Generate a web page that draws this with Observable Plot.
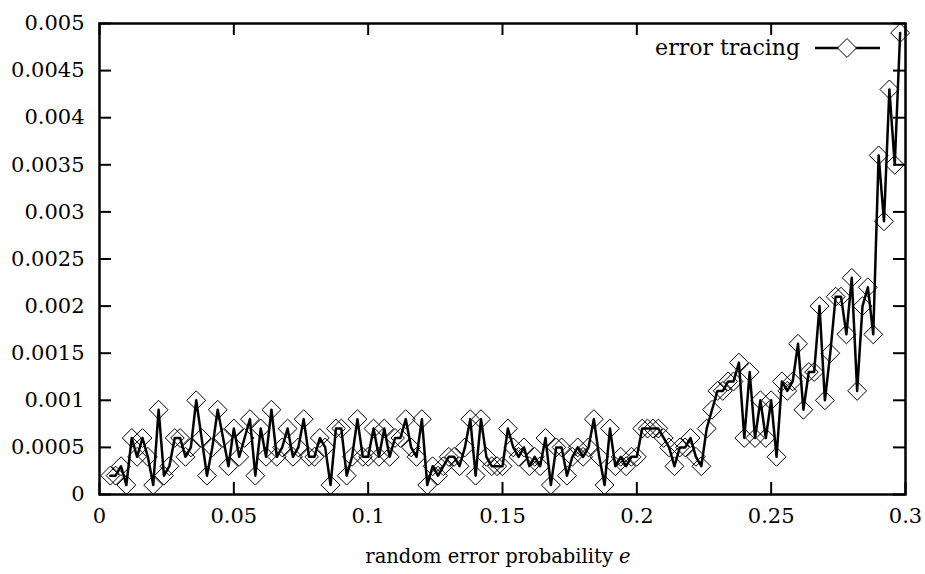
<!DOCTYPE html>
<html><head><meta charset="utf-8">
<script src="https://cdn.jsdelivr.net/npm/d3@7"></script>
<script src="https://cdn.jsdelivr.net/npm/@observablehq/plot@0.6"></script>
<style>body{margin:0;background:#fff}svg{display:block}svg text{font-family:'DejaVu Serif',serif !important}</style>
</head><body><div id="chart"></div>
<script>
const errorProb = [0.004,0.006,0.008,0.010,0.012,0.014,0.016,0.018,0.020,0.022,0.024,0.026,0.028,0.030,0.032,0.034,0.036,0.038,0.040,0.042,0.044,0.046,0.048,0.050,0.052,0.054,0.056,0.058,0.060,0.062,0.064,0.066,0.068,0.070,0.072,0.074,0.076,0.078,0.080,0.082,0.084,0.086,0.088,0.090,0.092,0.094,0.096,0.098,0.100,0.102,0.104,0.106,0.108,0.110,0.112,0.114,0.116,0.118,0.120,0.122,0.124,0.126,0.128,0.130,0.132,0.134,0.136,0.138,0.140,0.142,0.144,0.146,0.148,0.150,0.152,0.154,0.156,0.158,0.160,0.162,0.164,0.166,0.168,0.170,0.172,0.174,0.176,0.178,0.180,0.182,0.184,0.186,0.188,0.190,0.192,0.194,0.196,0.198,0.200,0.202,0.204,0.206,0.208,0.210,0.212,0.214,0.216,0.218,0.220,0.222,0.224,0.226,0.228,0.230,0.232,0.234,0.236,0.238,0.240,0.242,0.244,0.246,0.248,0.250,0.252,0.254,0.256,0.258,0.260,0.262,0.264,0.266,0.268,0.270,0.272,0.274,0.276,0.278,0.280,0.282,0.284,0.286,0.288,0.290,0.292,0.294,0.296,0.298];
const errorRate = [
0.0002,0.0002,0.0003,0.0001,0.0006,0.0004,0.0006,0.0004,0.0001,0.0009,
0.0002,0.0003,0.0006,0.0006,0.0004,0.0005,0.0010,0.0006,0.0002,0.0005,
0.0009,0.0006,0.0003,0.0007,0.0004,0.0006,0.0008,0.0002,0.0007,0.0004,
0.0009,0.0004,0.0005,0.0007,0.0004,0.0005,0.0008,0.0004,0.0004,0.0006,
0.0005,0.0001,0.0007,0.0007,0.0002,0.0004,0.0008,0.0004,0.0004,0.0007,
0.0004,0.0007,0.0004,0.0006,0.0006,0.0008,0.0005,0.0004,0.0008,0.0001,
0.0003,0.0002,0.0003,0.0004,0.0004,0.0003,0.0005,0.0008,0.0002,0.0008,
0.0004,0.0003,0.0003,0.0003,0.0007,0.0005,0.0004,0.0005,0.0003,0.0004,
0.0003,0.0006,0.0001,0.0005,0.0005,0.0002,0.0004,0.0005,0.0004,0.0005,
0.0008,0.0004,0.0001,0.0007,0.0003,0.0004,0.0003,0.0004,0.0004,0.0007,
0.0007,0.0007,0.0007,0.0006,0.0005,0.0003,0.0005,0.0005,0.0006,0.0004,
0.0003,0.0007,0.0009,0.0011,0.0011,0.0012,0.0012,0.0014,0.0006,0.0013,
0.0006,0.0010,0.0006,0.0010,0.0004,0.0012,0.0011,0.0012,0.0016,0.0009,
0.0013,0.0013,0.0020,0.0010,0.0015,0.0021,0.0021,0.0017,0.0023,0.0011,
0.0020,0.0022,0.0017,0.0036,0.0029,0.0043,0.0035,0.0049];
const xTicks = [0, 0.05, 0.1, 0.15, 0.2, 0.25, 0.3];
const xTickLabels = ["0", "0.05", "0.1", "0.15", "0.2", "0.25", "0.3"];
const yTicks = [0, 0.0005, 0.001, 0.0015, 0.002, 0.0025, 0.003, 0.0035, 0.004, 0.0045, 0.005];
const yTickLabels = ["0", "0.0005", "0.001", "0.0015", "0.002", "0.0025", "0.003", "0.0035", "0.004", "0.0045", "0.005"];
const seriesName = "error tracing";
const xTitle = "random error probability ";
const xTitleVar = "e";

const data = errorProb.map((e, i) => ({e, v: errorRate[i]}));

const W = 925, H = 574, mL = 99, mR = 20, mT = 23, mB = 80;
const fw = W - mL - mR, fh = H - mT - mB, tk = 12;
const font = "'DejaVu Serif', serif";

const plot = Plot.plot({
  width: W, height: H,
  marginLeft: mL, marginRight: mR, marginTop: mT, marginBottom: mB,
  style: {fontFamily: font, fontSize: "21px", color: "black", background: "white"},
  x: {domain: [0, 0.3], label: null},
  y: {domain: [0, 0.005], label: null},
  marks: [
    Plot.ruleX(xTicks, {stroke: "black", strokeWidth: 2, insetTop: fh - tk}),
    Plot.ruleX(xTicks, {stroke: "black", strokeWidth: 2, insetBottom: fh - tk}),
    Plot.ruleY(yTicks, {stroke: "black", strokeWidth: 2, insetRight: fw - tk}),
    Plot.ruleY(yTicks, {stroke: "black", strokeWidth: 2, insetLeft: fw - tk}),
    Plot.axisX(xTicks, {tickSize: 0, tickPadding: 14, fontSize: 21, tickFormat: d => xTickLabels[xTicks.indexOf(d)], label: null}),
    Plot.axisY(yTicks, {tickSize: 0, tickPadding: 15, fontSize: 21, tickFormat: d => yTickLabels[yTicks.indexOf(d)], label: null}),
    Plot.line(data, {x: "e", y: "v", stroke: "black", strokeWidth: 2.5}),
    Plot.dot(data, {x: "e", y: "v", symbol: "diamond2", r: 8.5, stroke: "black", strokeWidth: 1, fill: "none"}),
    Plot.frame({stroke: "black", strokeWidth: 2.5})
  ]
});
document.getElementById("chart").appendChild(plot);

const svg = d3.select(plot);
// x axis title
const t = svg.append("text")
  .attr("x", mL + fw / 2 - 4).attr("y", 563)
  .attr("text-anchor", "middle")
  .style("font-size", "19.5px").attr("fill", "black");
t.append("tspan").text(xTitle);
t.append("tspan").attr("font-style", "italic").text(xTitleVar);
// legend
const ly = 48;
svg.append("text").attr("x", 800).attr("y", ly).attr("dy", "0.32em")
  .attr("text-anchor", "end").style("font-size", "22px").attr("fill", "black")
  .text(seriesName);
svg.append("line").attr("x1", 815).attr("x2", 880).attr("y1", ly).attr("y2", ly)
  .attr("stroke", "black").attr("stroke-width", 2.5);
svg.append("path").attr("transform", `translate(847,${ly})`)
  .attr("d", d3.symbol(d3.symbolDiamond2, Math.PI * 8.5 * 8.5)())
  .attr("fill", "white").attr("stroke", "black").attr("stroke-width", 1);
</script>
</body></html>
